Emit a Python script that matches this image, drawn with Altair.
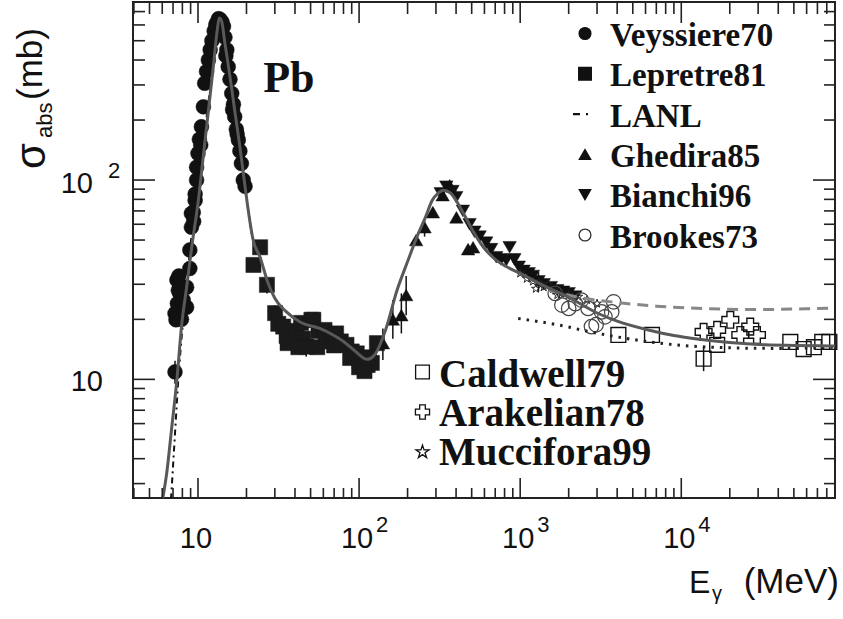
import altair as alt
import pandas as pd

# ---------------------------------------------------------------- data
# model curve (solid)
model_E = [6.05, 6.4, 6.85, 7.4, 7.9, 8.5, 9.14, 10.05, 10.8, 11.6, 12.45, 13.15, 13.55,
           14.0, 14.7, 15.8, 16.9, 18.2, 19.6, 21.0, 22.0, 24.3, 27.0, 30.0, 35.0, 43.0,
           57.0, 69.0, 80.0, 95.0, 112.0, 125.0, 146.0, 172.0, 200.0, 229.0, 260.0, 284.0,
           310.0, 334.0, 370.0, 445.0, 500.0, 592.0, 700.0, 826.0, 1000.0, 1460.0, 2000.0,
           3050.0, 4000.0, 6240.0, 9000.0, 12900.0, 20000.0, 33400.0, 50000.0, 90000.0]
model_s = [2.54, 3.4, 5.6, 10.0, 18.4, 29.0, 46.0, 79.0, 133.0, 222.0, 371.0, 560.0, 650.0,
           630.0, 485.0, 330.0, 224.0, 147.0, 92.5, 62.0, 50.0, 41.0, 31.0, 25.5, 22.0, 19.4,
           18.0, 16.7, 15.5, 13.8, 12.6, 13.3, 17.7, 28.0, 39.0, 52.0, 66.0, 79.0,
           86.0, 89.0, 86.0, 68.0, 57.0, 46.0, 40.0, 36.7, 34.0, 29.0, 25.8,
           21.4, 19.6, 17.7, 16.6, 15.9, 15.3, 14.9, 14.8, 14.7]

# LANL evaluation (dash-dot)
lanl_E = [6.8, 6.96, 7.2, 7.55, 8.1, 8.8, 9.6, 10.5, 11.5, 12.5, 13.3, 13.6, 14.2, 15.0,
          16.0, 17.0, 18.0, 19.0, 20.1, 21.5]
lanl_s = [2.5, 3.4, 5.35, 10.0, 20.0, 40.0, 75.0, 130.0, 230.0, 400.0, 590.0, 640.0, 570.0,
          420.0, 290.0, 200.0, 145.0, 108.0, 79.0, 54.0]

# high-energy extrapolations
dash_E = [1500, 2500, 4000, 7000, 15000, 30000, 60000, 90000]
dash_s = [28.0, 25.5, 24.3, 23.3, 22.6, 22.4, 22.6, 22.8]
dot_E = [972, 2000, 2400, 4900, 12800, 20000, 40000, 90000]
dot_s = [20.2, 18.3, 17.7, 15.9, 14.6, 14.4, 14.3, 14.5]

# measurements
veyssiere_E = [7.2, 7.2, 7.3, 7.45, 7.4, 7.55, 7.7, 7.9, 8.3, 8.5, 8.5, 8.9, 8.9, 9.1, 9.1,
               9.35, 9.6, 9.6, 9.8, 9.8, 10.0, 10.2, 10.5, 10.8, 11.0, 11.3, 11.6, 11.9,
               12.2, 12.6, 13.05, 13.4, 13.7, 14.1, 14.4, 14.7, 15.1, 15.4, 15.8, 16.2,
               16.6, 16.9, 17.3, 17.8, 18.2, 18.6, 19.1, 19.6, 7.6, 8.1, 9.4, 10.4, 12.9,
               14.9, 16.4, 17.5]
veyssiere_s = [10.9, 21.4, 19.9, 24.0, 31.5, 28.0, 27.0, 20.0, 23.0, 29.0, 23.0, 36.0, 44.6,
               58.0, 68.0, 69.0, 79.0, 85.0, 100.0, 116.0, 136.0, 160.0, 185.0, 233.0,
               306.0, 350.0, 400.0, 450.0, 500.0, 560.0, 614.0, 645.0, 640.0, 620.0, 590.0,
               520.0, 450.0, 370.0, 320.0, 272.0, 240.0, 208.0, 180.0, 159.0, 140.0, 121.0,
               100.0, 93.0, 33.0, 25.0, 62.0, 150.0, 600.0, 420.0, 225.0, 170.0]

lepretre_E = [22.1, 24.3, 26.8, 30.1, 31.5, 33.8, 35.5, 37.2, 39.0, 41.0, 43.6, 45.0, 47.0,
              50.6, 52.0, 56.0, 61.0, 66.0, 72.0, 77.0, 83.5, 90.0, 96.7, 101.0, 106.0,
              113.0, 120.0, 129.0, 36.0, 42.0, 55.0, 62.0, 70.0, 88.0, 100.0, 108.0, 115.0]
lepretre_s = [37.5, 46.0, 29.8, 21.5, 19.0, 18.4, 16.5, 15.8, 17.5, 17.0, 19.2, 16.0, 14.6,
              19.9, 19.9, 17.5, 17.7, 16.5, 17.0, 15.5, 14.9, 13.8, 13.5, 12.3, 12.5,
              11.8, 12.1, 15.2, 15.2, 14.5, 14.5, 15.5, 14.8, 12.8, 11.5, 11.0, 12.9]

ghedira_E = [140.5, 162.0, 183.0, 196.0, 226.0, 255.0, 287.0, 330.0, 365.0, 402.0, 475.0, 510.0]
ghedira_s = [15.2, 20.0, 21.0, 26.5, 50.0, 58.0, 69.0, 84.0, 94.0, 65.0, 45.0, 46.0]

bianchi_E = [321, 348, 380, 401, 441, 485, 520, 560, 615, 660, 710, 760, 820, 860, 920, 980,
             1050, 1130, 1200, 1300, 1400, 1550, 1700, 1850, 2000, 2200]
bianchi_s = [85.7, 92.6, 88.0, 82.0, 70.0, 60.0, 55.0, 52.0, 48.5, 45.0, 41.0, 40.0, 39.6,
             46.0, 40.0, 36.7, 35.0, 34.0, 33.0, 31.0, 30.0, 29.0, 28.0, 27.5, 27.0, 26.0]

brookes_E = [1650, 1815, 2000, 2200, 2400, 2640, 2770, 2960, 3200, 3360, 3700, 3800]
brookes_s = [27.0, 23.6, 22.7, 24.0, 25.0, 22.7, 18.4, 18.8, 21.8, 20.6, 21.8, 24.5]

caldwell_E = [4070, 6580, 13760, 16700, 47500, 57500, 66600, 75000, 83000]
caldwell_s = [16.7, 16.7, 12.7, 14.9, 15.4, 14.2, 14.5, 15.4, 15.4]

arakelian_E = [13760, 16700, 20150, 23250, 26800, 29500]
arakelian_s = [17.3, 17.7, 19.9, 16.7, 18.4, 16.7]

muccifora_E = [1000, 1100, 1200, 1250, 1300, 1400, 1500, 1650, 1700, 1800, 2000, 2300, 2600, 3000]
muccifora_s = [34.0, 32.0, 31.0, 28.5, 30.5, 29.0, 30.0, 28.0, 26.5, 27.0, 26.5, 26.0, 25.0, 24.0]

# error bars
err_E = [7.2, 26.8, 30.1, 37.2, 47.0, 83.5, 101.0, 113.0, 140.5, 162.0, 183.0, 196.0,
         255.0, 1300, 13760]
err_lo = [9.5, 27.0, 19.5, 14.2, 13.0, 13.4, 11.0, 10.6, 12.5, 16.0, 17.0, 21.0,
          52.0, 27.5, 11.0]
err_hi = [12.4, 32.5, 23.5, 17.5, 16.3, 16.5, 13.7, 13.1, 18.0, 25.0, 27.0, 33.0,
          64.0, 34.5, 14.6]

# axis ticks and labels
x_major = [10, 100, 1000, 10000]
x_exp = ["", "2", "3", "4"]
x_minor = [k * 10 ** d for d in range(0, 5) for k in range(2, 10)
           if 3.95 < k * 10 ** d < 89000]
y_major = [10, 100]
y_minor = [k * 10 ** d for d in range(0, 3) for k in range(2, 10)
           if 2.54 < k * 10 ** d < 782]

legend_top = ["Veyssiere70", "Lepretre81", "LANL", "Ghedira85", "Bianchi96", "Brookes73"]
legend_bottom = ["Caldwell79", "Arakelian78", "Muccifora99"]

# ---------------------------------------------------------------- layout
W, H = 702, 496
xs = alt.Scale(type="log", domain=[3.95, 90000], nice=False)
ys = alt.Scale(type="log", domain=[2.54, 782], nice=False)
SANS = "Liberation Sans"
SERIF = "Liberation Serif"
STAR = ("M0,-1L0.224,-0.309L0.951,-0.309L0.363,0.118L0.588,0.809L0,0.382"
        "L-0.588,0.809L-0.363,0.118L-0.951,-0.309L-0.224,-0.309Z")


def frame(E, s):
    return pd.DataFrame({"E": E, "s": s})


def enc(chart):
    return chart.encode(x=alt.X("E:Q", scale=xs, axis=None),
                        y=alt.Y("s:Q", scale=ys, axis=None))


def points(E, s, shape, size, filled, color="#111", sw=1.2):
    if filled:
        m = alt.Chart(frame(E, s)).mark_point(shape=shape, size=size, filled=True,
                                              fill=color, stroke=color, strokeWidth=0.5,
                                              opacity=1)
    else:
        m = alt.Chart(frame(E, s)).mark_point(shape=shape, size=size, filled=False,
                                              stroke=color, strokeWidth=sw, opacity=1)
    return enc(m)


def line(E, s, color, width, dash=None):
    kw = dict(color=color, strokeWidth=width, clip=True, interpolate="monotone")
    if dash:
        kw["strokeDash"] = dash
    return enc(alt.Chart(frame(E, s)).mark_line(**kw))


errbars = alt.Chart(pd.DataFrame({"E": err_E, "lo": err_lo, "hi": err_hi})).mark_rule(
    color="#111", strokeWidth=1.5).encode(
    x=alt.X("E:Q", scale=xs, axis=None),
    y=alt.Y("lo:Q", scale=ys, axis=None), y2="hi:Q")

layers = [
    errbars,
    points(veyssiere_E, veyssiere_s, "circle", 220, True),
    points(lepretre_E, lepretre_s, "square", 230, True, "#1a1a1a"),
    points(ghedira_E, ghedira_s, "triangle-up", 180, True),
    points(bianchi_E, bianchi_s, "triangle-down", 180, True),
    points(muccifora_E, muccifora_s, STAR, 80, False, "#222", 1.0),
    points(brookes_E, brookes_s, "circle", 210, False, "#444", 1.2),
    points(caldwell_E, caldwell_s, "square", 220, False, "#111", 1.4),
    points(arakelian_E, arakelian_s, "cross", 280, False, "#111", 1.4),
    line(lanl_E, lanl_s, "#111", 2, [6, 4, 2, 4]),
    line(dot_E, dot_s, "#222", 3, [2.5, 6]),
    line(dash_E, dash_s, "#888", 3, [11, 7]),
    line(model_E, model_s, "#595959", 3),
]

# ---------------------------------------------------------------- axes (inward ticks)
def xticks(vals, y0, y1):
    return alt.Chart(pd.DataFrame({"E": vals})).mark_rule(color="#222", strokeWidth=1.6).encode(
        x=alt.X("E:Q", scale=xs, axis=None), y=alt.value(y0), y2=alt.value(y1))


def yticks(vals, x0, x1):
    return alt.Chart(pd.DataFrame({"s": vals})).mark_rule(color="#222", strokeWidth=1.6).encode(
        y=alt.Y("s:Q", scale=ys, axis=None), x=alt.value(x0), x2=alt.value(x1))


layers += [
    xticks(x_major, H, H - 20), xticks(x_minor, H, H - 10),
    xticks(x_major, 0, 21), xticks(x_minor, 0, 12),
    yticks(y_major, 0, 22), yticks(y_minor, 0, 12),
    yticks(y_major, W, W - 22), yticks(y_minor, W, W - 11),
]

xlab = pd.DataFrame({"E": x_major, "exp": x_exp})
layers.append(alt.Chart(xlab).mark_text(font=SANS, fontSize=29, color="#111", align="center",
                                         baseline="alphabetic", dx=-2).encode(
    x=alt.X("E:Q", scale=xs, axis=None), y=alt.value(546), text=alt.value("10")))
layers.append(alt.Chart(xlab).transform_filter("datum.exp != ''").mark_text(
    font=SANS, fontSize=22, color="#111", align="left", baseline="alphabetic", dx=17).encode(
    x=alt.X("E:Q", scale=xs, axis=None), y=alt.value(530), text="exp:N"))

ylab = pd.DataFrame({"s": y_major})
layers.append(alt.Chart(ylab).transform_filter("datum.s == 10").mark_text(
    font=SANS, fontSize=29, color="#111", align="right", baseline="middle", dy=3).encode(
    y=alt.Y("s:Q", scale=ys, axis=None), x=alt.value(-30), text=alt.value("10")))
layers.append(alt.Chart(ylab).transform_filter("datum.s == 100").mark_text(
    font=SANS, fontSize=29, color="#111", align="right", baseline="middle", dy=4).encode(
    y=alt.Y("s:Q", scale=ys, axis=None), x=alt.value(-40), text=alt.value("10")))
layers.append(alt.Chart(ylab).transform_filter("datum.s == 100").mark_text(
    font=SANS, fontSize=22, color="#111", align="left", baseline="middle", dy=-9).encode(
    y=alt.Y("s:Q", scale=ys, axis=None), x=alt.value(-25), text=alt.value("2")))

# axis titles
def label(txt, x, y, size, align="left", angle=0, font=SANS, weight="normal", baseline="alphabetic"):
    return alt.Chart(pd.DataFrame({"t": [txt]})).mark_text(
        font=font, fontSize=size, fontWeight=weight, color="#111", align=align,
        baseline=baseline, angle=angle).encode(x=alt.value(x), y=alt.value(y), text="t:N")


layers += [
    label("E", 556, 591, 32),
    label("γ", 579, 598, 20),
    label("(MeV)", 706, 591, 35, align="right"),
    label("σ", 45 - 133, 167, 42, angle=270),
    label("abs", 51.5 - 133, 136, 22, angle=270),
    label("(mb)", 42 - 133, 98, 35, angle=270),
]

# element label
layers.append(alt.Chart(pd.DataFrame({"E": [25.4], "s": [276.0], "t": ["Pb"]})).mark_text(
    font=SERIF, fontSize=44, fontWeight="bold", color="#111", align="left",
    baseline="alphabetic").encode(x=alt.X("E:Q", scale=xs, axis=None),
                                  y=alt.Y("s:Q", scale=ys, axis=None), text="t:N"))

# ---------------------------------------------------------------- legends
top_sym = pd.DataFrame({
    "name": legend_top,
    "shape": ["circle", "square", "", "triangle-up", "triangle-down", "circle"],
    "fill": ["#111", "#111", "", "#111", "#111", "white"],
    "stroke": ["#111", "#111", "", "#111", "#111", "#333"],
    "sz": [140, 160, 0, 130, 130, 140],
})
top_sym["row"] = range(len(top_sym))
top_sym["px"] = 452
top_sym["py"] = 31.5 + 40.3 * top_sym["row"]
top_sym["ty"] = 44 + 40.3 * top_sym["row"]

bot_sym = pd.DataFrame({
    "name": legend_bottom,
    "shape": ["square", "cross", STAR],
    "fill": ["white", "white", "white"],
    "stroke": ["#111", "#111", "#111"],
    "sz": [190, 200, 190],
})
bot_sym["row"] = range(len(bot_sym))
bot_sym["px"] = 289.5
bot_sym["py"] = 370 + 40 * bot_sym["row"]
bot_sym["ty"] = 384.5 + 39.2 * bot_sym["row"]

for df, fs, tx in [(top_sym, 33, 477), (bot_sym, 39, 306)]:
    sym = df[df["shape"] != ""]
    layers.append(alt.Chart(sym).mark_point(filled=True, opacity=1, strokeWidth=1.3).encode(
        x=alt.X("px:Q", scale=None, axis=None), y=alt.Y("py:Q", scale=None, axis=None),
        shape=alt.Shape("shape:N", scale=None, legend=None),
        fill=alt.Fill("fill:N", scale=None, legend=None),
        stroke=alt.Stroke("stroke:N", scale=None, legend=None),
        size=alt.Size("sz:Q", scale=None, legend=None)))
    layers.append(alt.Chart(df).mark_text(font=SERIF, fontSize=fs, fontWeight="bold",
                                          color="#111", align="left",
                                          baseline="alphabetic").encode(
        x=alt.value(tx), y=alt.Y("ty:Q", scale=None, axis=None), text="name:N"))

# LANL legend sample (dash-dot)
layers.append(alt.Chart(pd.DataFrame({"v": [1]})).mark_rule(
    color="#111", strokeWidth=2.2, strokeDash=[7, 6, 2, 30]).encode(
    x=alt.value(440), x2=alt.value(461), y=alt.value(31.5 + 40.3 * 2)))

chart = alt.layer(*layers).properties(
    width=W, height=H, autosize="none",
    padding={"left": 133, "top": 2, "right": 8, "bottom": 121},
    background="white",
).configure_view(stroke="#222", strokeWidth=2)

chart.save("out.html", embed_options={"renderer": "svg", "actions": False})
